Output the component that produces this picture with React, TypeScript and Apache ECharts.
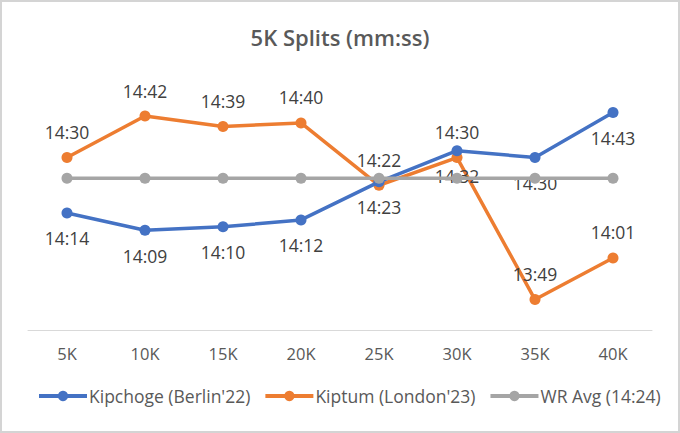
import React, { useEffect, useRef } from "react";
import * as echarts from "echarts";

const categories = ["5K", "10K", "15K", "20K", "25K", "30K", "35K", "40K"];
const kipchoge = ["14:14", "14:09", "14:10", "14:12", "14:23", "14:32", "14:30", "14:43"];
const kiptum = ["14:30", "14:42", "14:39", "14:40", "14:22", "14:30", "13:49", "14:01"];
const wrAvg = ["14:24", "14:24", "14:24", "14:24", "14:24", "14:24", "14:24", "14:24"];

const toSec = (s: string) => {
  const [m, sec] = s.split(":").map(Number);
  return m * 60 + sec;
};
const fmt = (v: number) => {
  const m = Math.floor(v / 60);
  const s = Math.round(v - m * 60);
  return `${m}:${String(s).padStart(2, "0")}`;
};

const FONT = "'Open Sans', 'Noto Sans', sans-serif";

export default function App() {
  const ref = useRef<HTMLDivElement>(null);
  useEffect(() => {
    document.body.style.margin = "0";
    const chart = echarts.init(ref.current!, undefined, { renderer: "svg" });
    const labelStyle = (pos: string) => ({
      show: true,
      position: pos,
      distance: 11,
      color: "#404040",
      fontSize: 17.5,
      fontFamily: FONT,
      formatter: (p: any) => fmt(p.value),
    });
    chart.setOption({
      animation: false,
      backgroundColor: "#ffffff",
      title: {
        text: "5K Splits (mm:ss)",
        left: "center",
        top: 19,
        textStyle: { fontFamily: FONT, fontSize: 22, fontWeight: 600, color: "#595959" },
      },
      legend: {
        bottom: 21,
        left: 30,
        itemWidth: 48,
        itemHeight: 13,
        itemGap: 13,
        lineStyle: { width: 4 },
        textStyle: { fontFamily: FONT, fontSize: 17.5, color: "#595959", padding: [0, 0, 0, -3] },
        data: ["Kipchoge (Berlin'22)", "Kiptum (London'23)", "WR Avg (14:24)"],
      },
      grid: { left: 26, right: 26, top: 69, bottom: 100.3 },
      xAxis: {
        type: "category",
        data: categories,
        boundaryGap: true,
        axisLine: { show: true, lineStyle: { color: "#d9d9d9", width: 1 } },
        axisTick: { show: false },
        axisLabel: { fontFamily: FONT, fontSize: 16.5, color: "#595959", margin: 14 },
      },
      yAxis: {
        type: "value",
        min: 820,
        max: 895,
        show: false,
        splitLine: { show: false },
      },
      series: [
        {
          name: "Kipchoge (Berlin'22)",
          type: "line",
          data: kipchoge.map(toSec),
          color: "#4472C4",
          lineStyle: { width: 3.5 },
          symbol: "circle",
          symbolSize: 11,
          label: labelStyle("bottom"),
          z: 3,
        },
        {
          name: "Kiptum (London'23)",
          type: "line",
          data: kiptum.map(toSec),
          color: "#ED7D31",
          lineStyle: { width: 3.5 },
          symbol: "circle",
          symbolSize: 11,
          label: labelStyle("top"),
          z: 2,
        },
        {
          name: "WR Avg (14:24)",
          type: "line",
          data: wrAvg.map(toSec),
          color: "#A5A5A5",
          lineStyle: { width: 3.5 },
          symbol: "circle",
          symbolSize: 11,
          z: 4,
        },
      ],
    });
    return () => chart.dispose();
  }, []);
  return (
    <div
      ref={ref}
      style={{
        position: "absolute",
        left: 0,
        top: 0,
        width: 680,
        height: 433,
        boxSizing: "border-box",
        border: "2px solid #d4d4d4",
      }}
    />
  );
}
